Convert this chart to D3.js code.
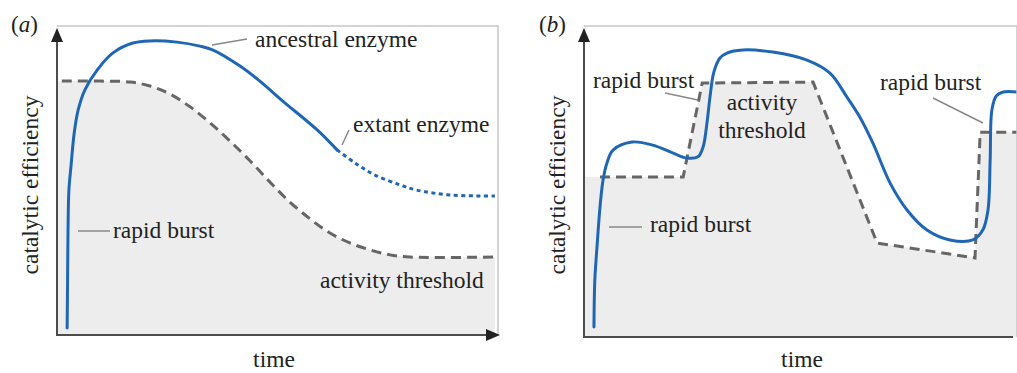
<!DOCTYPE html>
<html>
<head>
<meta charset="utf-8">
<script src="https://cdn.jsdelivr.net/npm/d3@7"></script>
<style>
  body { margin: 0; background: #fff; }
</style>
</head>
<body>
<div id="chart"></div>
<script>
// values, time and efficiency both on a 0-100 scale

// panel (a)
var ancestralA = [
  [2.3, 2.3], [2.4, 17.9], [2.5, 34.2], [2.7, 47.2], [3.2, 55.4], [3.9, 65.8],
  [4.8, 73.3], [6.3, 79.8], [9.1, 86.3], [12.7, 91.9], [17.2, 95.1], [21.1, 95.8],
  [27.2, 95.4], [32.4, 94.1], [35.4, 92.8], [41.5, 87.6], [46.0, 82.7], [51.2, 76.2],
  [59.0, 66.8], [63.5, 60.3]
];
var extantA = [
  [63.5, 60.3], [67.6, 56.0], [72.1, 52.1], [77.8, 48.9], [81.6, 47.2],
  [89.1, 45.6], [99.3, 45.3]
];
var thresholdA = [
  [1.1, 82.7], [9.8, 82.7], [16.6, 82.4], [21.1, 81.1], [25.6, 78.5], [30.2, 74.3],
  [34.7, 69.1], [39.2, 63.2], [43.8, 56.7], [48.3, 49.8], [52.8, 43.3], [57.4, 37.8],
  [61.9, 33.2], [66.4, 30.0], [71.0, 27.7], [75.5, 26.1], [80.0, 25.4], [99.3, 25.4]
];

// panel (b)
var enzymeB = [
  [2.3, 3.2], [2.5, 18.4], [3.0, 29.1], [3.7, 42.1], [4.4, 50.8], [5.3, 56.3],
  [6.7, 60.5], [11.1, 63.1], [15.9, 62.1], [20.6, 59.5], [23.8, 57.9], [26.3, 58.3],
  [27.5, 61.5], [28.4, 69.3], [29.1, 77.7], [30.0, 85.8], [31.4, 90.3], [33.0, 91.9],
  [36.7, 92.9], [43.6, 92.2], [51.5, 89.6], [56.8, 85.4], [60.7, 77.7], [63.7, 71.2],
  [66.7, 62.8], [70.7, 49.8], [74.6, 41.1], [79.2, 34.6], [84.5, 31.4], [89.8, 31.4],
  [92.1, 34.6], [93.3, 41.1], [93.8, 57.3], [94.2, 73.5], [95.2, 78.0], [96.8, 79.3],
  [100, 79.3]
];
var thresholdB = [
  [3.7, 51.8], [22.9, 51.8], [27.3, 82.2], [52.9, 82.5], [67.7, 30.4],
  [90.3, 25.6], [91.5, 66.3], [100, 66.3]
];

var blue = "#1f67b4";
var dashGrey = "#666";
var fillGrey = "#ededed";
var serif = "'Liberation Serif', 'Times New Roman', Times, 'DejaVu Serif', serif";
var smooth = d3.curveCatmullRom.alpha(0.5);

var svg = d3.select("#chart")
  .append("svg")
  .attr("width", 1017)
  .attr("height", 373);

var defs = svg.append("defs");
defs.append("clipPath").attr("id", "clipB")
  .append("rect").attr("x", 584).attr("y", 20).attr("width", 433).attr("height", 318);

function addText(g, x, y, str, size, anchor) {
  return g.append("text")
    .attr("x", x).attr("y", y)
    .attr("text-anchor", anchor || "start")
    .attr("font-family", serif)
    .attr("font-size", size)
    .attr("fill", "#222")
    .text(str);
}

function drawPanel(opt) {
  var x = d3.scaleLinear().domain([0, 100]).range([opt.left, opt.right]);
  var y = d3.scaleLinear().domain([0, 100]).range([opt.bottom, opt.top]);
  var g = svg.append("g");
  var plot = g.append("g");
  if (opt.clip) plot.attr("clip-path", "url(#" + opt.clip + ")");

  // shaded area under the activity threshold
  var fillData = [[0, opt.threshold[0][1]]].concat(opt.threshold);
  var area = d3.area()
    .x(d => x(d[0]))
    .y0(y(0))
    .y1(d => y(d[1]))
    .curve(opt.thrCurve);
  plot.append("path")
    .attr("d", area(fillData))
    .attr("fill", fillGrey);

  // light frame (top and right)
  g.append("path")
    .attr("d", `M${opt.left},${opt.top - 2}H${opt.right}V${opt.bottom}`)
    .attr("fill", "none")
    .attr("stroke", "#c8c8c8")
    .attr("stroke-width", 1.5);

  var line = d3.line().x(d => x(d[0])).y(d => y(d[1]));

  plot.append("path")
    .attr("d", line.curve(opt.thrCurve)(opt.threshold))
    .attr("fill", "none")
    .attr("stroke", dashGrey)
    .attr("stroke-width", 3)
    .attr("stroke-dasharray", "10,6");

  plot.append("path")
    .attr("d", line.curve(smooth)(opt.enzyme))
    .attr("fill", "none")
    .attr("stroke", blue)
    .attr("stroke-width", 3)
    .attr("stroke-linecap", "round");

  if (opt.extant) {
    plot.append("path")
      .attr("d", line.curve(smooth)(opt.extant))
      .attr("fill", "none")
      .attr("stroke", blue)
      .attr("stroke-width", 3)
      .attr("stroke-dasharray", "4,3.5");
  }

  // axes with arrow heads
  var axisCol = "#4d4d4d";
  g.append("line")
    .attr("x1", opt.left).attr("y1", opt.bottom + 1)
    .attr("x2", opt.left).attr("y2", opt.top + 6)
    .attr("stroke", axisCol).attr("stroke-width", 2);
  g.append("path")
    .attr("d", `M${opt.left},${opt.top}l-6,14h12z`)
    .attr("fill", "#222");
  g.append("line")
    .attr("x1", opt.left - 1).attr("y1", opt.bottom)
    .attr("x2", opt.right - 4).attr("y2", opt.bottom)
    .attr("stroke", axisCol).attr("stroke-width", 2);
  if (opt.xArrow) {
    g.append("path")
      .attr("d", `M${opt.right + 2},${opt.bottom}l-14,-6v12z`)
      .attr("fill", "#222");
  }

  // axis titles and panel letter
  addText(g, 0, 0, "catalytic efficiency", 23.5, "middle")
    .attr("transform", `translate(${opt.left - 19}, 185) rotate(-90)`);
  addText(g, opt.timeX, 367, "time", 23.5, "middle");
  var lab = addText(g, opt.letterX, 32, "", 23);
  lab.append("tspan").text("(");
  lab.append("tspan").attr("font-style", "italic").text(opt.letter);
  lab.append("tspan").text(")");

  // annotations
  opt.labels.forEach(function(l) {
    if (l.lead) {
      g.append("line")
        .attr("x1", l.lead[0]).attr("y1", l.lead[1])
        .attr("x2", l.lead[2]).attr("y2", l.lead[3])
        .attr("stroke", "#888").attr("stroke-width", 1.5);
    }
    addText(g, l.x, l.y, l.text, 23.5, l.anchor);
  });
}

drawPanel({
  left: 57, right: 498, top: 28, bottom: 335,
  enzyme: ancestralA, extant: extantA, threshold: thresholdA,
  thrCurve: smooth, xArrow: true,
  timeX: 274, letter: "a", letterX: 11,
  labels: [
    {text: "ancestral enzyme", x: 255, y: 47, lead: [212, 45, 247, 39]},
    {text: "extant enzyme", x: 353, y: 132, lead: [342, 145, 349, 130]},
    {text: "rapid burst", x: 113, y: 238, lead: [78, 231, 110, 231]},
    {text: "activity threshold", x: 320, y: 288}
  ]
});

drawPanel({
  left: 584, right: 1017, top: 28, bottom: 337,
  enzyme: enzymeB, threshold: thresholdB,
  thrCurve: d3.curveLinear, xArrow: false, clip: "clipB",
  timeX: 802, letter: "b", letterX: 539,
  labels: [
    {text: "rapid burst", x: 593, y: 88, lead: [665, 93, 698, 100]},
    {text: "activity", x: 762, y: 110, anchor: "middle"},
    {text: "threshold", x: 762, y: 138, anchor: "middle"},
    {text: "rapid burst", x: 880, y: 90, lead: [933, 98, 983, 123]},
    {text: "rapid burst", x: 650, y: 232, lead: [609, 227, 642, 227]}
  ]
});
</script>
</body>
</html>
